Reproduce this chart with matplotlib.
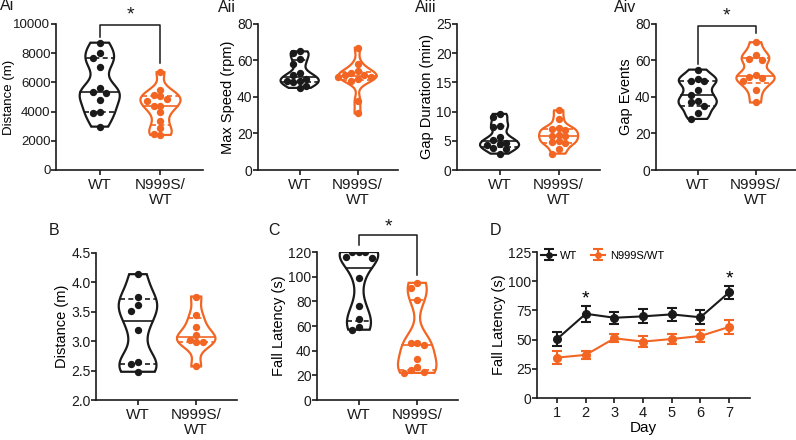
import numpy as np
import matplotlib
matplotlib.use("Agg")
import matplotlib.pyplot as plt

plt.rcParams['font.family'] = ['Liberation Sans', 'DejaVu Sans']
plt.rcParams['font.size'] = 9

BLACK = "#1a1a1a"
ORANGE = "#f26522"

GROUPS = ["WT", "N999S/\nWT"]

# violin data
ai_wt = [8720, 7990, 7650, 7080, 5600, 5360, 5250, 4800, 3990, 3920, 2970]
ai_mut = [6700, 5500, 5150, 5050, 4850, 4750, 4400, 4350, 3950, 3350, 2850, 2450, 2400]
aii_wt = [65, 64, 61, 58, 53, 52, 50, 49, 49, 48, 46, 45]
aii_mut = [67, 58, 54, 53, 52, 52, 51, 51, 50, 49, 38, 31]
aiii_wt = [9.6, 9.0, 7.6, 7.4, 5.7, 5.2, 4.7, 4.5, 4.2, 3.8, 3.6, 2.8]
aiii_mut = [10.2, 8.7, 7.2, 7.0, 6.9, 6.0, 5.9, 5.8, 4.9, 4.8, 4.6, 3.6, 2.8]
aiv_wt = [55, 50, 49, 49, 44, 41, 38, 37, 35, 31, 28]
aiv_mut = [70, 63, 61, 60, 52, 51, 50.5, 49, 44, 37]
b_wt = [4.14, 3.76, 3.61, 3.51, 3.19, 2.65, 2.61, 2.48]
b_mut = [3.76, 3.44, 3.25, 3.11, 3.02, 2.99, 2.99, 2.57]
c_wt = [120, 120, 120, 116, 115, 99, 76, 66, 59, 57]
c_mut = [95, 91, 81, 46, 46, 45, 33, 27, 24, 23, 22]

# rotarod over days
days = [1, 2, 3, 4, 5, 6, 7]
d_wt = [50.5, 72.1, 68.7, 69.9, 71.6, 69.1, 90.4]
d_wt_err = [6, 7, 5, 6, 5.5, 6, 5.5]
d_mut = [34.6, 36.9, 51.1, 48.3, 50.5, 53.1, 60.8]
d_mut_err = [5.5, 3.7, 3.5, 4.5, 4, 5, 6]
d_sig_days = [2, 7]

fig = plt.figure(figsize=(7.96, 4.40), dpi=100)
W, H = 796.0, 440.0


def add_ax(x0, y0, x1, y1):
    # pixel box (top-left origin) -> figure fraction
    return fig.add_axes([x0 / W, 1 - y1 / H, (x1 - x0) / W, (y1 - y0) / H])


def style(ax):
    for s in ["top", "right"]:
        ax.spines[s].set_visible(False)
    for s in ["left", "bottom"]:
        ax.spines[s].set_linewidth(1.2)
        ax.spines[s].set_color(BLACK)
    ax.tick_params(direction="out", length=3.5, width=1.2, colors=BLACK, labelsize=10, pad=0.5)
    ax.tick_params(axis="x", pad=2)


def violin(ax, pos, vals, color, bw=0.55, half=0.33):
    v = np.asarray(vals, float)
    ys = np.linspace(v.min(), v.max(), 300)
    h = bw * 1.06 * v.std(ddof=1) * len(v) ** -0.2
    dens = np.exp(-0.5 * ((ys[:, None] - v[None, :]) / h) ** 2).sum(axis=1)
    w = dens / dens.max() * half
    xs = np.concatenate([pos - w, (pos + w)[::-1]])
    yy = np.concatenate([ys, ys[::-1]])
    ax.fill(xs, yy, facecolor="white", edgecolor=color, lw=1.6, zorder=2)
    for q, ls in [(25, (0, (3, 2))), (50, "-"), (75, (0, (3, 2)))]:
        y = np.percentile(v, q, method="weibull")
        wq = np.interp(y, ys, w)
        ax.plot([pos - wq, pos + wq], [y, y], color=color, lw=1.2, ls=ls, zorder=3)


def swarm(ax, pos, vals, color, diam=6.5):
    bb = ax.get_window_extent()
    x0, x1 = ax.get_xlim()
    y0, y1 = ax.get_ylim()
    sx = bb.width / (x1 - x0)
    sy = bb.height / (y1 - y0)
    placed = []
    for y in sorted(vals, reverse=True):
        yp = y * sy
        for c in [0, -1, 1, -2, 2, -3, 3]:
            xp = c * diam
            if all((xp - a) ** 2 + (yp - b) ** 2 >= (diam * 0.95) ** 2 for a, b in placed):
                break
        placed.append((xp, yp))
    xs = pos + np.array([p[0] for p in placed]) / sx
    ys = np.array([p[1] for p in placed]) / sy
    ax.scatter(xs, ys, s=28, color=color, zorder=4, linewidths=0)


def violin_panel(box, wt, mut, ylim, yticks, ylabel, ticklabels=None):
    ax = add_ax(*box)
    style(ax)
    ax.set_xlim(-0.72, 1.7)
    ax.set_ylim(*ylim)
    ax.set_yticks(yticks)
    if ticklabels is not None:
        ax.set_yticklabels(ticklabels)
    ax.set_xticks([0, 1])
    ax.set_xticklabels(GROUPS, linespacing=1.1, fontsize=11)
    ax.set_ylabel(ylabel, fontsize=10.5, labelpad=1.5)
    violin(ax, 0, wt, BLACK)
    violin(ax, 1, mut, ORANGE)
    swarm(ax, 0, wt, BLACK)
    swarm(ax, 1, mut, ORANGE)
    return ax


def bracket(ax, top, left_end, right_end, star_y):
    ax.plot([0, 0, 1, 1], [left_end, top, top, right_end], color=BLACK, lw=1.1,
            clip_on=False, zorder=5)
    ax.text(0.5, star_y, "*", ha="center", va="center", fontsize=14, color=BLACK)


ax = violin_panel((56, 24, 203, 170), ai_wt, ai_mut, (0, 10000),
                  np.arange(0, 10001, 2000), "Distance (m)")
bracket(ax, 9930, 9100, 7300, 10650)
# the wide tick labels push this label off the page; pin it inside
ax.tick_params(axis="y", labelsize=9.5)
ax.yaxis.label.set_fontsize(9.5)
ax.yaxis.set_label_coords(-0.28, 0.5)

violin_panel((258, 24, 398, 170), aii_wt, aii_mut, (0, 80),
             np.arange(0, 81, 20), "Max Speed (rpm)")

violin_panel((457, 24, 600, 170), aiii_wt, aiii_mut, (0, 25),
             np.arange(0, 26, 5), "Gap Duration (min)")

ax = violin_panel((656, 24, 796, 170), aiv_wt, aiv_mut, (0, 80),
                  np.arange(0, 81, 20), "Gap Events")
bracket(ax, 79, 58, 75, 84.5)

violin_panel((96, 253, 237, 400), b_wt, b_mut, (2.0, 4.5),
             np.arange(2.0, 4.51, 0.5), "Distance (m)",
             ["%.1f" % t for t in np.arange(2.0, 4.51, 0.5)])

ax = violin_panel((317, 252, 458, 400), c_wt, c_mut, (0, 120),
                  np.arange(0, 121, 20), "Fall Latency (s)")
bracket(ax, 134, 126, 101, 140)

# panel D
ax = add_ax(537, 252, 750, 398)
style(ax)
ax.errorbar(days, d_wt, yerr=d_wt_err, color=BLACK, marker="o", ms=5.5, lw=1.5,
            capsize=3.5, elinewidth=1.5, capthick=1.5, label="WT", zorder=3)
ax.errorbar(days, d_mut, yerr=d_mut_err, color=ORANGE, marker="o", ms=5.5, lw=1.5,
            capsize=3.5, elinewidth=1.5, capthick=1.5, label="N999S/WT", zorder=3)
for d in d_sig_days:
    i = days.index(d)
    ax.text(d, d_wt[i] + d_wt_err[i] + 6, "*", ha="center", va="center", fontsize=14)
ax.set_xlim(0.3, 7.73)
ax.set_ylim(0, 125)
ax.set_yticks(np.arange(0, 126, 25))
ax.set_xticks(days)
ax.tick_params(axis="x", labelsize=10.5)
ax.set_xlabel("Day", fontsize=11, labelpad=1)
ax.set_ylabel("Fall Latency (s)", fontsize=10.5, labelpad=1.5)
leg = ax.legend(loc="upper left", ncol=2, frameon=False, fontsize=8, handlelength=1.3,
                columnspacing=1.2, handletextpad=0.4, borderaxespad=0.0,
                bbox_to_anchor=(0.0, 1.04), markerscale=0.7)

# panel letters
for txt, x, y in [("Ai", 0, 6), ("Aii", 218, 7), ("Aiii", 415, 7), ("Aiv", 614, 7),
                  ("B", 49, 230), ("C", 268, 230), ("D", 490, 230)]:
    fig.text(x / W, 1 - y / H, txt, ha="left", va="center", fontsize=11.5, color=BLACK)

fig.savefig("out.png", dpi=100)
